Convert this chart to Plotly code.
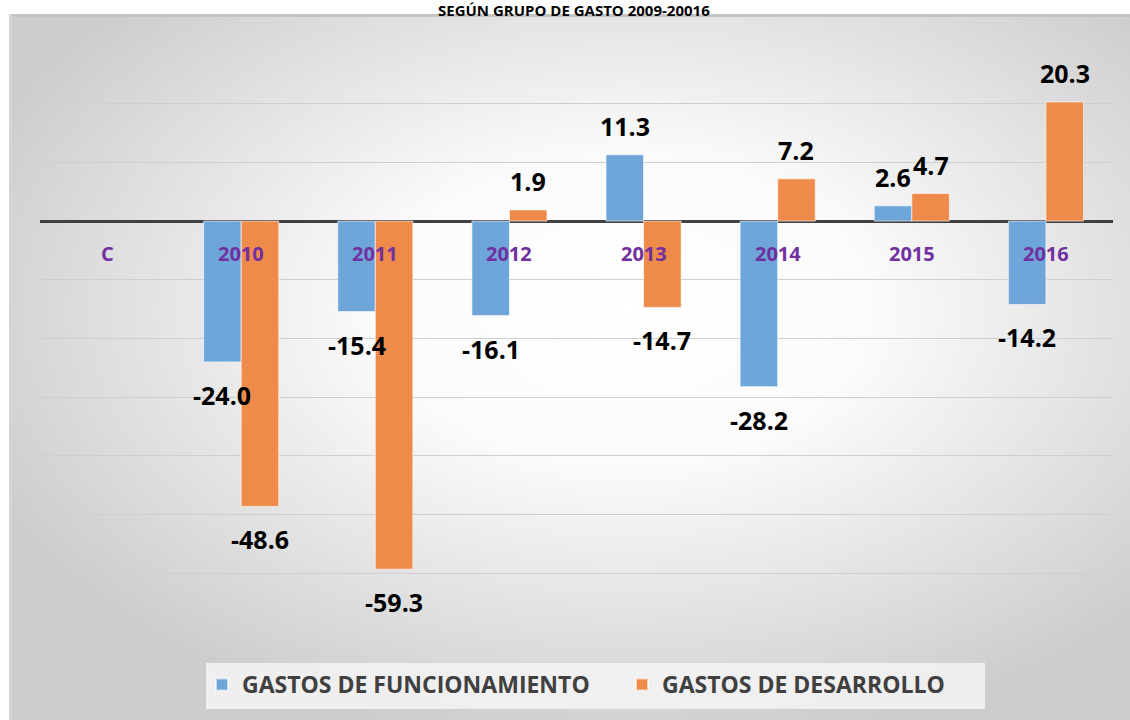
import plotly.graph_objects as go
import base64

categories = ["C", "2010", "2011", "2012", "2013", "2014", "2015", "2016"]
funcionamiento = [None, -24.0, -15.4, -16.1, 11.3, -28.2, 2.6, -14.2]
desarrollo = [None, -48.6, -59.3, 1.9, -14.7, 7.2, 4.7, 20.3]
series_names = ["GASTOS DE FUNCIONAMIENTO", "GASTOS DE DESARROLLO"]
colors = ["#6FA6DA", "#EE8B4B"]
title_text = "SEGÚN GRUPO DE GASTO 2009-20016"

# layout geometry (pixels)
W, H = 1130, 720
ml, mr, mt, mb = 40, 17, 45, 88
pw, ph = W - ml - mr, H - mt - mb


def px_x(p):
    return (p - ml) / pw


def px_y(p):
    return (mt + ph - p) / ph


fig = go.Figure()
for name, vals, col in zip(series_names, [funcionamiento, desarrollo], colors):
    fig.add_trace(go.Bar(
        x=categories, y=vals, name=f"<b>{name}</b>",
        marker=dict(color=col, line=dict(color="rgba(255,255,255,0.6)", width=1)),
    ))

# data labels
annots = []
for i, vals in enumerate([funcionamiento, desarrollo]):
    xs = -18.8 if i == 0 else 18.8
    for k, v in enumerate(vals):
        if v is None:
            continue
        annots.append(dict(
            x=k, y=v, xref="x", yref="y", text=f"<b>{v:.1f}</b>", showarrow=False,
            xshift=xs, yshift=(29 if v >= 0 else -33),
            font=dict(family="Open Sans", size=25, color="#000000"),
        ))

# category labels near zero line
for k, c in enumerate(categories):
    annots.append(dict(
        x=k, y=0, xref="x", yref="y", text=f"<b>{c}</b>", showarrow=False,
        yshift=-32, font=dict(family="Open Sans", size=20, color="#7030A0"),
    ))

# title (at top edge)
annots.append(dict(
    x=px_x(574), y=px_y(10), xref="paper", yref="paper",
    text=f"<b>{title_text}</b>", showarrow=False, yanchor="middle",
    font=dict(family="Open Sans", size=15, color="#000000"),
))

svg = '''<svg xmlns="http://www.w3.org/2000/svg" width="1121" height="706" viewBox="0 0 1121 706">
<defs><radialGradient id="g" cx="0.55" cy="0.42" r="0.62">
<stop offset="0" stop-color="#ffffff"/><stop offset="0.35" stop-color="#fbfbfb"/><stop offset="1" stop-color="#cdcdcd"/>
</radialGradient></defs>
<rect width="1121" height="706" fill="url(#g)"/>
<rect x="0" y="0" width="1121" height="3" fill="#c4c4c4"/>
<rect x="0" y="0" width="3" height="706" fill="#d4d4d4"/>
</svg>'''
src = "data:image/svg+xml;base64," + base64.b64encode(svg.encode()).decode()

fig.update_layout(
    width=W, height=H,
    margin=dict(l=ml, r=mr, t=mt, b=mb),
    paper_bgcolor="#ffffff", plot_bgcolor="rgba(0,0,0,0)",
    barmode="group", bargap=0.44, bargroupgap=0,
    showlegend=True,
    legend=dict(
        orientation="h", x=px_x(202), xanchor="left", y=px_y(663), yanchor="top",
        bgcolor="rgba(0,0,0,0)", borderwidth=0,
        font=dict(family="Open Sans", size=23, color="#404040"),
        itemsizing="constant", entrywidth=375, traceorder="normal",
    ),
    xaxis=dict(type="category", showticklabels=False, showgrid=False, zeroline=False,
               showline=False, range=[-0.5, 7.5]),
    yaxis=dict(range=[-70, 30], dtick=10, showticklabels=False, showgrid=True,
               gridcolor="#cfcfcf", gridwidth=1, zeroline=True, zerolinecolor="#404040",
               zerolinewidth=3, showline=False),
    annotations=annots,
    shapes=[dict(type="rect", xref="paper", yref="paper",
                 x0=px_x(206), x1=px_x(985), y0=px_y(709), y1=px_y(663),
                 fillcolor="rgba(245,245,245,0.85)", line=dict(width=0), layer="below")],
    images=[dict(source=src, xref="paper", yref="paper",
                 x=px_x(9), y=px_y(14), sizex=1121 / pw, sizey=706 / ph,
                 xanchor="left", yanchor="top", sizing="stretch", layer="below")],
)

fig.write_html("out.html", config={"displayModeBar": False},
               post_script="document.body.style.margin='0';")
